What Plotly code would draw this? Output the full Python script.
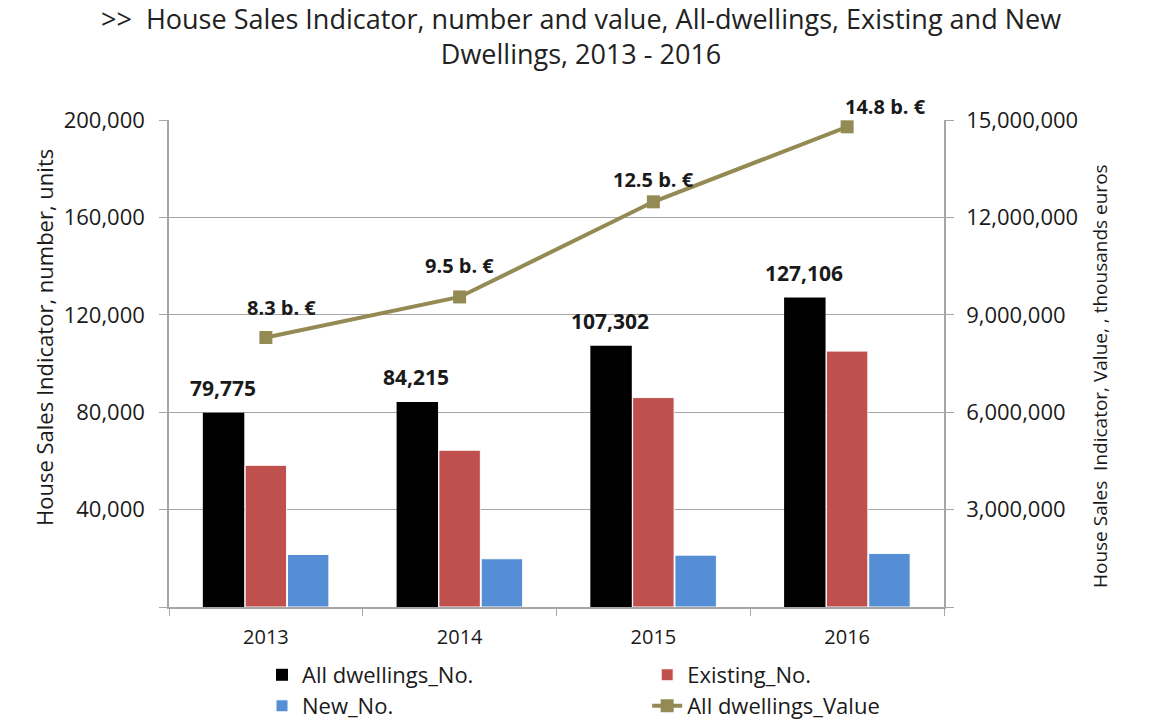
import plotly.graph_objects as go

years = ["2013", "2014", "2015", "2016"]
all_no = [79775, 84215, 107302, 127106]
existing_no = [58200, 64400, 86000, 105100]
new_no = [21575, 19815, 21302, 22006]
all_value = [8300000, 9550000, 12480000, 14790000]
value_labels = ["8.3 b. €", "9.5 b. €", "12.5 b. €", "14.8 b. €"]
value_label_xshift = [16, 0, 0, 38]
value_label_yshift = [30, 31, 22, 20]

left_ticks = [0, 40000, 80000, 120000, 160000, 200000]
right_ticks = [0, 3000000, 6000000, 9000000, 12000000, 15000000]

FONT = "Open Sans"
GRID = "#a6a6a6"
TXT = "#1a1a1a"
BARGAP = 0.345

fig = go.Figure()
fig.add_trace(go.Bar(x=years, y=all_no, name="All dwellings_No.", legend="legend",
                     marker=dict(color="#000000", line=dict(width=0))))
fig.add_trace(go.Bar(x=years, y=existing_no, name="Existing_No.", legend="legend2",
                     marker=dict(color="#C0504D", line=dict(width=1, color="white"))))
fig.add_trace(go.Bar(x=years, y=new_no, name="New_No.", legend="legend3",
                     marker=dict(color="#558ED5", line=dict(width=1, color="white"))))
fig.add_trace(go.Scatter(x=years, y=all_value, name="All dwellings_Value", yaxis="y2", legend="legend4",
                         mode="lines+markers",
                         line=dict(color="#948A54", width=4),
                         marker=dict(symbol="square", size=13, color="#948A54")))
for tr in fig.data:
    tr.showlegend = True

annotations = []
bw = (1 - BARGAP) / 3
for i, v in enumerate(all_no):
    annotations.append(dict(x=i - bw, y=v, xref="x", yref="y", text=f"<b>{v:,}</b>",
                            showarrow=False, yshift=25, xshift=-1,
                            font=dict(family=FONT, size=21, color=TXT)))
for i, v in enumerate(all_value):
    annotations.append(dict(x=i, y=v, xref="x", yref="y2", text=f"<b>{value_labels[i]}</b>",
                            showarrow=False, yshift=value_label_yshift[i], xshift=value_label_xshift[i],
                            font=dict(family=FONT, size=20, color=TXT)))

annotations.append(dict(
    text="&gt;&gt;  House Sales Indicator, number and value, All-dwellings, Existing and New<br>Dwellings, 2013 - 2016",
    xref="paper", yref="paper", x=0.532, y=1.172, xanchor="center", yanchor="middle",
    showarrow=False, align="center",
    font=dict(family=FONT, size=27, color="#222")))

annotations.append(dict(
    text="House Sales Indicator, number, units", textangle=-90,
    xref="paper", yref="paper", x=-0.1613, y=0.5544, xanchor="center", yanchor="middle",
    showarrow=False, font=dict(family=FONT, size=22, color=TXT)))
annotations.append(dict(
    text="House Sales  Indicator, Value, , thousands euros", textangle=-90,
    xref="paper", yref="paper", x=1.2013, y=0.4743, xanchor="center", yanchor="middle",
    showarrow=False, font=dict(family=FONT, size=19, color=TXT)))

leg_font = dict(family=FONT, size=22, color=TXT)
fig.update_layout(
    width=1151, height=716,
    showlegend=True,
    paper_bgcolor="white", plot_bgcolor="white",
    font=dict(family=FONT, color=TXT),
    margin=dict(l=161, r=215, t=112, b=117, autoexpand=False),
    barmode="group", bargap=BARGAP, bargroupgap=0.02,
    xaxis=dict(type="category", showline=True, linecolor=GRID, linewidth=1.5,
               ticks="outside", tickson="boundaries", ticklen=7, tickcolor=GRID,
               ticklabelstandoff=11,
               tickfont=dict(family=FONT, size=20, color=TXT), showgrid=False),
    yaxis=dict(range=[0, 200000], tickvals=left_ticks, ticktext=["" if t == 0 else f"{t:,}" for t in left_ticks],
               showgrid=True, gridcolor=GRID, gridwidth=1.3, showline=True, linecolor=GRID, linewidth=1.5,
               ticks="outside", ticklen=8, tickcolor=GRID, ticklabelstandoff=10,
               tickfont=dict(family=FONT, size=22, color=TXT),
               zeroline=False),
    yaxis2=dict(range=[0, 15000000], tickvals=right_ticks, ticktext=["" if t == 0 else f"{t:,}" for t in right_ticks],
                overlaying="y", side="right", showgrid=False, showline=True, linecolor=GRID, linewidth=1.5,
                ticks="outside", ticklen=8, tickcolor=GRID, ticklabelstandoff=8,
                tickfont=dict(family=FONT, size=22, color=TXT),
                zeroline=False),
    legend=dict(x=0.12, xanchor="left", y=-0.1396, yanchor="middle", font=leg_font, bgcolor="rgba(0,0,0,0)", visible=True),
    legend2=dict(x=0.617, xanchor="left", y=-0.1396, yanchor="middle", font=leg_font, bgcolor="rgba(0,0,0,0)", visible=True),
    legend3=dict(x=0.12, xanchor="left", y=-0.2033, yanchor="middle", font=leg_font, bgcolor="rgba(0,0,0,0)", visible=True),
    legend4=dict(x=0.617, xanchor="left", y=-0.2033, yanchor="middle", font=leg_font, bgcolor="rgba(0,0,0,0)", visible=True),
    annotations=annotations,
)

fig.write_html("out.html")
